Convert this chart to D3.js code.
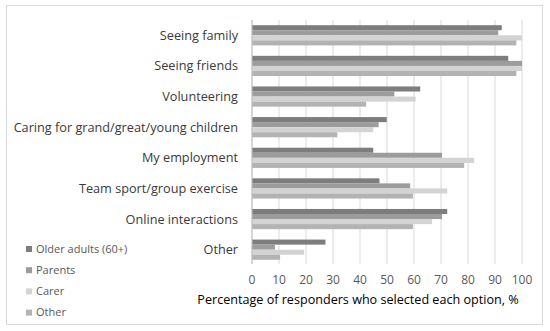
<!DOCTYPE html>
<html><head><meta charset="utf-8">
<script src="https://cdn.jsdelivr.net/npm/d3@7"></script>
<style>body{margin:0;background:#fff}svg{display:block;font-family:"Open Sans",sans-serif}</style>
</head><body><svg id="c" width="550" height="331"></svg>
<script>
const categories = ["Seeing family","Seeing friends","Volunteering","Caring for grand/great/young children","My employment","Team sport/group exercise","Online interactions","Other"];
const seriesNames = ["Older adults (60+)","Parents","Carer","Other"];
const olderAdults = [92.5,94.9,62.3,49.9,44.9,47.2,72.3,27.2];
const parents = [91.2,100,52.7,46.9,70.4,58.6,70.4,8.5];
const carer = [100,100,60.6,44.9,82.3,72.3,66.7,19.3];
const other = [97.9,97.9,42.3,31.6,78.6,59.6,59.6,10.4];
const seriesValues = [olderAdults,parents,carer,other];
const colors = ["#7d7d7d","#9c9c9c","#d3d3d3","#b3b3b3"];
const ticks = [0,10,20,30,40,50,60,70,80,90,100];
const axisTitle = "Percentage of responders who selected each option, %";

const svg = d3.select("#c");
svg.append("rect").attr("x",6.5).attr("y",5.5).attr("width",536).attr("height",319)
  .attr("fill","#fff").attr("stroke","#d9d9d9");

const x = d3.scaleLinear().domain([0,100]).range([252,522]);
const y = d3.scaleBand().domain(categories).range([20,265]).paddingInner(0.34).paddingOuter(0.17);
const yi = d3.scaleBand().domain(seriesNames).range([0,y.bandwidth()]);

svg.append("g").selectAll("line").data(ticks).join("line")
  .attr("x1",d=>x(d)).attr("x2",d=>x(d)).attr("y1",20).attr("y2",264)
  .attr("stroke","#d9d9d9").attr("stroke-width",1);

categories.forEach((c,i)=>{
  svg.append("g").selectAll("rect").data(seriesNames).join("rect")
    .attr("x",x(0)).attr("y",(s)=>y(c)+yi(s))
    .attr("width",(s,j)=>x(seriesValues[j][i])-x(0))
    .attr("height",yi.bandwidth())
    .attr("fill",(s,j)=>colors[j]);
});

svg.append("line").attr("x1",x(0)).attr("x2",x(0)).attr("y1",20).attr("y2",264)
  .attr("stroke","#bfbfbf");

svg.append("g").selectAll("text").data(categories).join("text")
  .attr("x",238).attr("y",d=>y(d)+y.bandwidth()/2).attr("dy","0.35em")
  .attr("text-anchor","end").attr("font-size",12.7).attr("fill","#3a3a3a").text(d=>d);

svg.append("g").selectAll("text").data(ticks).join("text")
  .attr("x",d=>x(d)).attr("y",280).attr("dy","0.35em")
  .attr("text-anchor","middle").attr("font-size",12).attr("fill","#595959").text(d=>d);

svg.append("text").attr("x",358).attr("y",300).attr("dy","0.35em")
  .attr("text-anchor","middle").attr("font-size",12.6).attr("fill","#000").text(axisTitle);

const lg = svg.append("g");
seriesNames.forEach((s,j)=>{
  const cy = 249 + j*21.2;
  lg.append("rect").attr("x",26).attr("y",cy-3).attr("width",6).attr("height",6).attr("fill",colors[j]);
  lg.append("text").attr("x",36).attr("y",cy).attr("dy","0.35em").attr("font-size",11).attr("fill","#595959").text(s);
});
</script></body></html>
